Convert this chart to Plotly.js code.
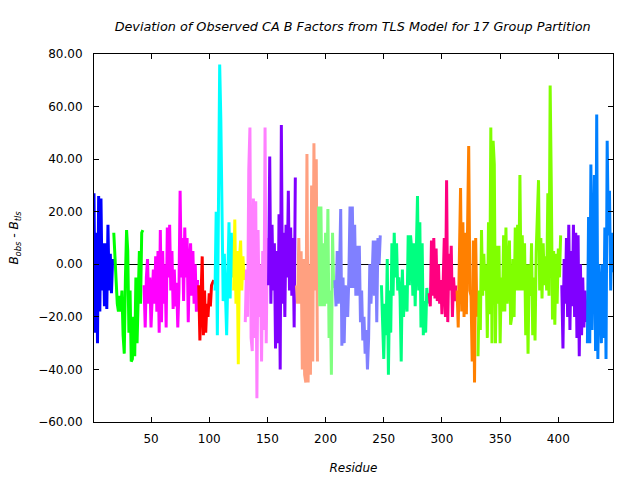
<!DOCTYPE html>
<html>
<head>
<meta charset="utf-8">
<script src="https://cdn.plot.ly/plotly-3.0.1.min.js"></script>
<style>html,body{margin:0;padding:0;background:#fff;}#chart{width:640px;height:480px;}</style>
</head>
<body>
<div id="chart"></div>
<script>
// Group partition: first residue of each group
const groupStarts = [1, 18, 44, 91, 105, 121, 131, 151, 175, 194, 208, 248, 289, 313, 331, 403, 425];
// B_obs - B_tls per residue, one array per TLS group
const g1 = [27, -26, 12, -30, 26, -18, 25, -10, 8, -16, 8, -17, 15, -10, 4, -11, 2];
const g2 = [12, 3, -5, -15, -18, -12, -18, -10, -27, -34, -5, 13, 5, -26, -10, -37, -36, -20, -35, -5, -30, -10, 5, -15, 12, 13];
const g3 = [-8, -24, -5, 2, -15, -5, -24, -8, -2, -15, 3, -18, 5, -26, 13, -22, 5, -15, 0, -24, 14, -5, 15, -10, 5, -17, -2, -16, -7, -24, -10, 28, -5, 10, -14, 14, -5, 10, -22, 0, 8, -12, 5, -15, 0, -18, -6];
const g4 = [-8, -29, -12, 3, -27, -10, -26, -15, -20, -11, -16, -8, -7, -6];
const g5 = [-10, 20, -27, 26, 76, 55, 14, -14, 4, -12, -27, -5, 16, -13, 12, -5];
const g6 = [-10, 17, -15, 5, -38, 2, 9, -10, 3, -6];
const g7 = [-22, -2, -20, 36, 52, -28, -33, 25, -28, 24, -51, 13, -20, 0, -37, 5, -25, 52, -30, 10];
const g8 = [-8, 41, -15, 15, -10, 8, -32, 5, -30, 19, -40, 53, -15, 12, -20, 15, -5, 28, -10, 14, -12, 10, -24, 33];
const g9 = [-8, -15, 10, -15, 5, -40, 2, -42, -45, 42, -45, 0, -42, 30, -37, 46, -10, 40, -37];
const g10 = [22, -16, 22, -16, 8, -16, 12, -15, 21, -28, -10, -42, 12, -9];
const g11 = [-6, -16, 5, -15, -3, 21, -31, -5, -30, -8, -12, -20, -5, 22, -9, 22, -9, 15, -12, 7, -12, 7, -22, -10, -29, -20, -34, -25, -40, -28, 0, -15, -5, 9, -12, 9, -22, 10, 0, 11];
const g12 = [-8, -22, -36, -15, -27, 2, -42, -10, -26, 8, -12, 12, -5, 8, -10, -5, -12, -37, -2, -20, -8, -12, -18, 11, -8, 11, 6, -12, 8, -16, 8, 26, -10, 16, -24, 8, -27, -14, -26, -9, -15];
const g13 = [-11, -16, 9, -12, 10, -13, 6, -14, 0, -15, -6, -19, -8, 10, -20, 32, -22, 4, -10, 7, -20, -5, -14, -8];
const g14 = [-10, -24, 3, 29, -18, 16, -20, 12, -19, 10, 45, -10, -12, -37, 9, -45, 10, -20];
const g15 = [-35, -10, -25, 13, -12, 4, -10, 0, -28, 16, -19, 52, -30, 47, 38, -30, 7, -15, 7, -30, -5, -18, 11, -18, 14, -15, -5, 9, -23,
             -20, 2, -20, 14, -10, 15, -10, 34, -10, 11, -10, 8, -27, 0, -34, 0,
             -12, 8, -27, -5, -29, 5, 21, 32, -10, 10, -13, 8, -8, 3, -10, 27, -12, 68, 29, -21, 5, -23, 4, -15, 6, -5, 11];
const g16 = [-8, -32, 2, -15, 10, -20, 15, -25, 5, -16, 15, -20, 12, -28, 11, -35, 0, -27, -5, -24, -10, -22];
const g17 = [-30, 18, -30, 38, -25, 17, 34, -33, 57, -36, 0, -10, -30, 0, -28, 14, -36, 47, 11, 28, -10, 12, -3];
const groupValues = [g1, g2, g3, g4, g5, g6, g7, g8, g9, g10, g11, g12, g13, g14, g15, g16, g17];

const groupColors = ['#0000ff', '#00ff00', '#ff00ff', '#ff0000', '#00ffff', '#ffff00', '#ff80ff', '#8000ff',
                     '#ffa080', '#80ff80', '#8080ff', '#00ff80', '#ff0080', '#ff8000', '#80ff00', '#8000ff', '#0080ff'];
const xTicks = [50, 100, 150, 200, 250, 300, 350, 400];
const yTicks = [-60, -40, -20, 0, 20, 40, 60, 80];

const traces = groupValues.map((vals, i) => ({
  type: 'scatter',
  mode: 'lines',
  x: vals.map((_, j) => groupStarts[i] + j),
  y: vals,
  line: {color: groupColors[i], width: 3},
  hoverinfo: 'skip',
  showlegend: false
}));

const fontFam = 'DejaVu Sans, Verdana, sans-serif';
const layout = {
  width: 640, height: 480,
  margin: {l: 94, r: 27, t: 54, b: 58},
  paper_bgcolor: '#fff', plot_bgcolor: '#fff',
  font: {family: fontFam, size: 12, color: '#000'},
  title: {text: '<i>Deviation of Observed CA B Factors from TLS Model for 17 Group Partition</i>',
          x: 0.551, xanchor: 'center', y: 0.944, yanchor: 'middle', font: {family: fontFam, size: 12.8}},
  xaxis: {range: [1, 447], tickvals: xTicks, ticks: 'inside', ticklen: 5, tickcolor: '#000',
          showline: true, linecolor: '#000', linewidth: 1, mirror: 'ticks', showgrid: false, zeroline: false,
          ticklabelstandoff: 6,
          title: {text: '<i>Residue</i>', font: {size: 12}, standoff: 18}},
  yaxis: {range: [-60, 80], tickvals: yTicks, tickformat: '.2f', ticks: 'inside', ticklen: 5, tickcolor: '#000',
          showline: true, linecolor: '#000', linewidth: 1, mirror: 'ticks', showgrid: false,
          zeroline: true, zerolinecolor: '#000', zerolinewidth: 1, ticklabelstandoff: 8,
          title: {text: '<i>B<sub>obs</sub> - B<sub>tls</sub></i>', font: {size: 12}, standoff: 16}}
};

Plotly.newPlot('chart', traces, layout, {staticPlot: true, displayModeBar: false});
</script>
</body>
</html>
